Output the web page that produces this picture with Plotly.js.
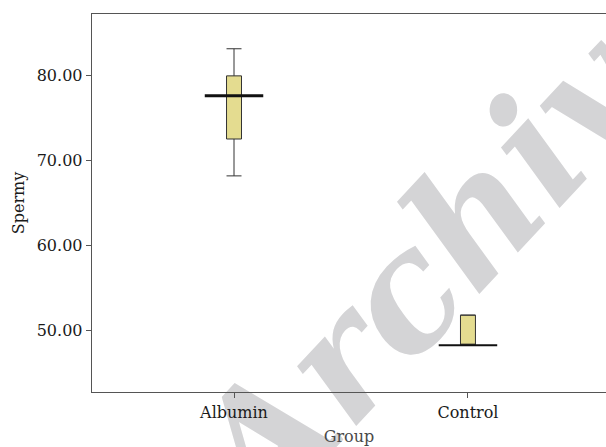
<!DOCTYPE html>
<html>
<head>
<meta charset="utf-8">
<script src="https://cdn.plot.ly/plotly-3.0.1.min.js"></script>
<style>html,body{margin:0;padding:0;background:#fff;}#chart{width:606px;height:447px;}</style>
</head>
<body>
<div id="chart"></div>
<script>
var groups = ["Albumin", "Control"];
var positions = [0, 1];
var lowerFence = [68.2, 48.23];
var q1 = [72.55, 48.23];
var median = [77.65, 48.23];
var q3 = [80.0, 51.77];
var upperFence = [83.2, 51.77];
var yTicks = [50, 60, 70, 80];

var traces = [{
  type: "box",
  x: positions,
  q1: q1, median: median, q3: q3,
  lowerfence: lowerFence, upperfence: upperFence,
  width: 0.064,
  whiskerwidth: 1,
  fillcolor: "#e4dc90",
  line: {color: "#333333", width: 1},
  boxpoints: false,
  hoverinfo: "skip",
  showlegend: false
}];
var medWidths = [3, 2];
positions.forEach(function(p, i) {
  traces.push({
    type: "scatter", mode: "lines",
    x: [p - 0.125, p + 0.125], y: [median[i], median[i]],
    line: {color: "#111111", width: medWidths[i]},
    hoverinfo: "skip", showlegend: false
  });
});

var layout = {
  width: 606, height: 447,
  margin: {l: 92, r: 0, t: 14, b: 55},
  paper_bgcolor: "#ffffff", plot_bgcolor: "#ffffff",
  font: {family: "DejaVu Serif", size: 16, color: "#1a1a1a"},
  xaxis: {
    range: [-0.607, 1.59],
    tickvals: positions, ticktext: groups,
    showgrid: false, zeroline: false,
    showline: true, mirror: true, linecolor: "#555555", linewidth: 1.3,
    ticks: "outside", ticklen: 5, tickcolor: "#555555",
    tickfont: {family: "DejaVu Serif", size: 16, color: "#1a1a1a"},
    title: {text: "Group", font: {family: "DejaVu Serif", size: 16, color: "#4a4a4a"}, standoff: 10}
  },
  yaxis: {
    range: [42.7, 87.3],
    tickvals: yTicks, tickformat: ".2f",
    showgrid: false, zeroline: false,
    showline: true, linecolor: "#555555", linewidth: 1.3,
    ticks: "outside", ticklen: 5, tickcolor: "#555555",
    tickfont: {family: "DejaVu Serif", size: 16, color: "#1a1a1a"},
    title: {text: "Spermy", font: {family: "DejaVu Serif", size: 16, color: "#1a1a1a"}, standoff: 8}
  },
  shapes: [{
    type: "rect", xref: "paper", yref: "paper",
    x0: 0.645, x1: 0.745, y0: 0.384, y1: 0.484,
    line: {width: 0}, fillcolor: "rgba(0,0,0,0)", layer: "below",
    label: {
      text: "<b><i>Archive</i></b>",
      textangle: -47, textposition: "middle center",
      font: {family: "DejaVu Serif", size: 162, color: "#d4d4d6", style: "italic", weight: "bold"}
    }
  }]
};
Plotly.newPlot("chart", traces, layout, {staticPlot: true, displayModeBar: false});
</script>
</body>
</html>
